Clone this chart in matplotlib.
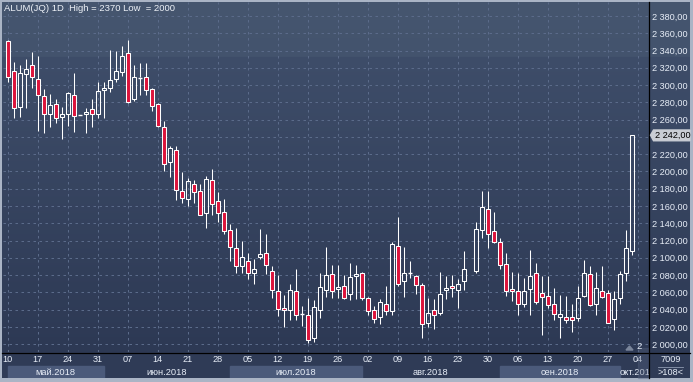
import matplotlib
matplotlib.use('Agg')
import matplotlib.pyplot as plt
from matplotlib.patches import Rectangle, Polygon
from matplotlib.colors import to_rgb
import numpy as np

plt.rcParams['font.family'] = ['Liberation Sans', 'DejaVu Sans']

# ---------------- data (ALUM(JQ) daily candles, 10 May - 03 Oct 2018) -------------
nan = float('nan')
opens = [2351, 2316, 2275, 2313, 2323, 2307, 2287, 2267, 2278, 2263,
         2266, 2289, 2265, 2266, 2272, 2266, 2294, 2297, 2307, 2315,
         2337, 2284, 2308, 2309, 2296, 2278, 2251, 2211, 2225, 2177,
         2168, 2186, 2177, 2152, 2190, 2166, 2153, 2132, 2111, 2090,
         2096, 2082, 2101, 2105, 2085, 2062, 2042, 2040, 2062, 2035,
         2034, 2007, 2040, 2063, 2081, 2064, 2067, 2058, 2079, 2082,
         2053, 2040, 2031, 2047, 2038, 2114, 2073, 2082, 2079, 2069,
         2025, 2040, 2036, 2063, 2067, 2063, 2073, nan, 2085, 2132,
         2157, 2131, 2118, 2093, 2064, 2062, 2047, 2064, 2082, 2059,
         2056, 2046, 2031, 2031, 2031, 2030, 2056, 2081, 2047, 2061,
         2059, 2029, 2054, 2082, 2108]
highs = [2352, 2327, 2323, 2330, 2338, 2334, 2295, 2290, 2284, 2275,
         2292, 2314, 2265, 2273, 2284, 2303, 2303, 2341, 2339, 2345,
         2352, 2323, 2326, 2325, 2297, 2279, 2258, 2229, 2229, 2199,
         2192, 2190, 2185, 2195, 2203, 2176, 2168, 2139, 2135, 2119,
         2106, 2099, 2133, 2127, 2090, 2080, 2057, 2070, 2087, 2044,
         2053, 2051, 2082, 2112, 2092, 2092, 2080, 2094, 2092, 2083,
         2055, 2044, 2052, 2067, 2118, 2147, 2112, 2096, 2080, 2071,
         2054, 2052, 2084, 2079, 2080, 2075, 2108, nan, 2142, 2177,
         2177, 2153, 2123, 2106, 2084, 2082, 2077, 2109, 2094, 2079,
         2079, 2065, 2057, 2056, 2047, 2067, 2098, 2090, 2084, 2091,
         2063, 2062, 2085, 2132, 2242]
lows = [2304, 2262, 2263, 2273, 2297, 2247, 2245, 2252, 2256, 2238,
        2253, 2246, 2265, 2245, 2252, 2262, 2262, 2292, 2303, 2310,
        2279, 2282, 2289, 2289, 2270, 2252, 2200, 2193, 2167, 2164,
        2160, 2163, 2150, 2134, 2150, 2141, 2128, 2096, 2082, 2082,
        2076, 2070, 2099, 2081, 2053, 2033, 2020, 2028, 2028, 2021,
        2001, 2003, 2030, 2055, 2053, 2053, 2052, 2051, 2052, 2051,
        2034, 2025, 2023, 2034, 2034, 2067, 2055, 2077, 2058, 2007,
        2020, 2017, 2034, 2052, 2055, 2042, 2063, nan, 2082, 2123,
        2111, 2117, 2087, 2056, 2050, 2034, 2043, 2034, 2047, 2011,
        2042, 2028, 2007, 2024, 2014, 2027, 2055, 2044, 2034, 2054,
        2024, 2016, 2047, 2073, 2103]
closes = [2309, 2273, 2314, 2319, 2309, 2289, 2266, 2277, 2262, 2267,
          2291, 2264, 2265, 2269, 2266, 2293, 2297, 2306, 2316, 2334,
          2280, 2309, 2309, 2294, 2276, 2253, 2209, 2227, 2179, 2169,
          2189, 2176, 2150, 2191, 2162, 2152, 2131, 2112, 2091, 2101,
          2082, 2087, 2104, 2092, 2063, 2041, 2039, 2063, 2034, 2035,
          2005, 2043, 2066, 2080, 2062, 2066, 2054, 2078, 2081, 2054,
          2038, 2029, 2049, 2038, 2116, 2070, 2082, 2082, 2068, 2023,
          2036, 2034, 2058, 2065, 2065, 2070, 2087, nan, 2133, 2159,
          2128, 2118, 2092, 2062, 2062, 2047, 2062, 2079, 2049, 2055,
          2045, 2035, 2035, 2028, 2028, 2054, 2082, 2045, 2065, 2055,
          2025, 2052, 2081, 2111, 2242]

day_labels = ['10', '17', '24', '31', '07', '14', '21', '28', '05', '12', '19',
              '26', '02', '09', '16', '23', '30', '06', '13', '20', '27', '04']
month_names = ['май.2018', 'июн.2018', 'июл.2018', 'авг.2018', 'сен.2018', 'окт.2018']
month_starts = [0, 16, 37, 59, 82, 102]
price_ticks = list(range(2000, 2381, 20))
last_price = 2242
title = 'ALUM(JQ) 1D  High = 2370 Low  = 2000'

# ---------------- layout helpers ----------------
W, H = 693, 382
fig = plt.figure(figsize=(W / 100, H / 100), dpi=100)
fig.patch.set_facecolor('#aab4c5')


def box(x0, y0, x1, y1):
    return [x0 / W, 1 - y1 / H, (x1 - x0) / W, (y1 - y0) / H]


def hexlerp(c1, c2, n):
    a, b = np.array(to_rgb(c1)), np.array(to_rgb(c2))
    t = np.linspace(0, 1, n)[:, None]
    return a + (b - a) * t

# background gradient (plot + right scale)
ax_bg = fig.add_axes(box(2, 2, 690, 352))
ax_bg.set_axis_off()
top = hexlerp('#46566f', '#43536d', 55)
bot = hexlerp('#3e4d69', '#2d3954', 295)
grad = np.concatenate([top, bot])[:, None, :]
ax_bg.imshow(grad, aspect='auto', extent=[0, 1, 0, 1], interpolation='bilinear')
ax_bg.set_xlim(0, 1); ax_bg.set_ylim(0, 1)

# bottom strip background
ax_b = fig.add_axes(box(2, 352, 690, 378))
ax_b.set_axis_off()
ax_b.add_patch(Rectangle((0, 0), 1, 1, transform=ax_b.transAxes, color='#2f3b56'))

# main axes
px0, px1 = 3, 649
py0, py1 = 2, 352
cx0 = 7.8  # pixel x of first candle
xmin, xmax = (px0 - cx0) / 6, (px1 - cx0) / 6
pscale = 20 / 17.27
ymax = 2380 + (16 - py0) * pscale
ymin = 2380 - (py1 - 16) * pscale

ax = fig.add_axes(box(px0, py0, px1, py1))
ax.set_facecolor('none')
ax.set_xlim(xmin, xmax)
ax.set_ylim(ymin, ymax)
for s in ax.spines.values():
    s.set_visible(False)

ax.set_yticks(price_ticks)
# the 2 240 label is hidden under the last-price marker in the original
ax.set_yticklabels(['' if abs(p - last_price) < 10 else f'{p // 1000} {p % 1000:03d},00'
                    for p in price_ticks])
ax.yaxis.tick_right()
ax.tick_params(axis='y', length=0, pad=2.4, labelsize=6.6, labelcolor='#e8eef8')
xt = list(range(0, 5 * len(day_labels), 5))
ax.set_xticks(xt)
ax.set_xticklabels(day_labels)
ax.tick_params(axis='x', length=0, pad=2.2, labelsize=6.6, labelcolor='#e8eef8')
ax.grid(True, color='#5b6b8a', linestyle=(0, (2.5, 3.5)), linewidth=0.72)
ax.set_axisbelow(True)

# candles
bw = 0.74
lw = 0.75
red = '#dc143c'
for i, (o, h, l, c) in enumerate(zip(opens, highs, lows, closes)):
    if np.isnan(o):
        continue
    lo_b, hi_b = min(o, c), max(o, c)
    if h > hi_b:
        ax.plot([i, i], [hi_b, h], color='white', lw=lw, zorder=3, solid_capstyle='butt')
    if l < lo_b:
        ax.plot([i, i], [l, lo_b], color='white', lw=lw, zorder=3, solid_capstyle='butt')
    if hi_b - lo_b < 1.2:
        ax.plot([i - bw / 2, i + bw / 2], [o, o], color='white', lw=1.0, zorder=4,
                solid_capstyle='butt')
    else:
        fc = red if c < o else 'none'
        ax.add_patch(Rectangle((i - bw / 2, lo_b), bw, hi_b - lo_b, facecolor=fc,
                               edgecolor='white', lw=lw, zorder=4))

# month bands in bottom strip (same x scale)
ax_m = fig.add_axes(box(px0, 352, px1, 378))
ax_m.set_xlim(xmin, xmax)
ax_m.set_ylim(26, 0)
ax_m.set_axis_off()
ax_m.patch.set_visible(False)
ends = month_starts[1:] + [xmax + 10]
for k, (name, s, e) in enumerate(zip(month_names, month_starts, ends)):
    if k % 2 == 0 and k < 5:
        ax_m.add_patch(Rectangle((s, 14), e - s, 12, color='#4b5a7a', zorder=1))
    xc = (s + e) / 2 if k < 5 else s + 2.9
    ax_m.text(xc, 20.2, name, ha='center', va='center', fontsize=6.7,
              color='#e8eef8', zorder=2, clip_on=True)
ax_m.add_patch(Rectangle(((637.7 - cx0) / 6, -4), (649 - 637.7) / 6, 30,
                         color='#56637f', alpha=0.35, zorder=3, clip_on=False))

# overlay in pixel coordinates
ov = fig.add_axes([0, 0, 1, 1])
ov.set_xlim(0, W); ov.set_ylim(H, 0)
ov.set_axis_off()
ov.patch.set_visible(False)
ov.plot([649.3, 649.3], [2, 378], color='black', lw=0.9)
ov.plot([2, 690], [352.5, 352.5], color='black', lw=0.9)
# last price marker
yl = 16 + (2380 - last_price) / pscale
ov.add_patch(Polygon([(650.5, yl), (653.5, yl - 5.2), (690, yl - 5.2), (690, yl + 5.6),
                      (653.5, yl + 5.6)], closed=True, color='#c9cdd4', zorder=5))
ov.text(655, yl + 0.3, f'{last_price // 1000} {last_price % 1000:03d},00', fontsize=6.6,
        color='black', va='center', ha='left', zorder=6)
# title
ov.text(4, 8.5, title, fontsize=6.8, color='#eef2f8', va='center', ha='left')
# bottom right info
ov.text(670.5, 360, '7009', fontsize=6.6, color='#e8eef8', ha='center', va='center')
ov.plot([658, 683], [366.5, 366.5], color='#8e9ab0', lw=0.6)
ov.text(670.5, 372.3, '>108<', fontsize=6.6, color='#e8eef8', ha='center', va='center')
# small indicator
ov.add_patch(Polygon([(626, 350), (629.5, 346), (633, 350)], closed=True, color='#7b869b'))
ov.text(639, 346.5, '2', fontsize=6.8, color='#e8eef8', ha='center', va='center')

fig.savefig('out.png', dpi=100, facecolor=fig.get_facecolor())
